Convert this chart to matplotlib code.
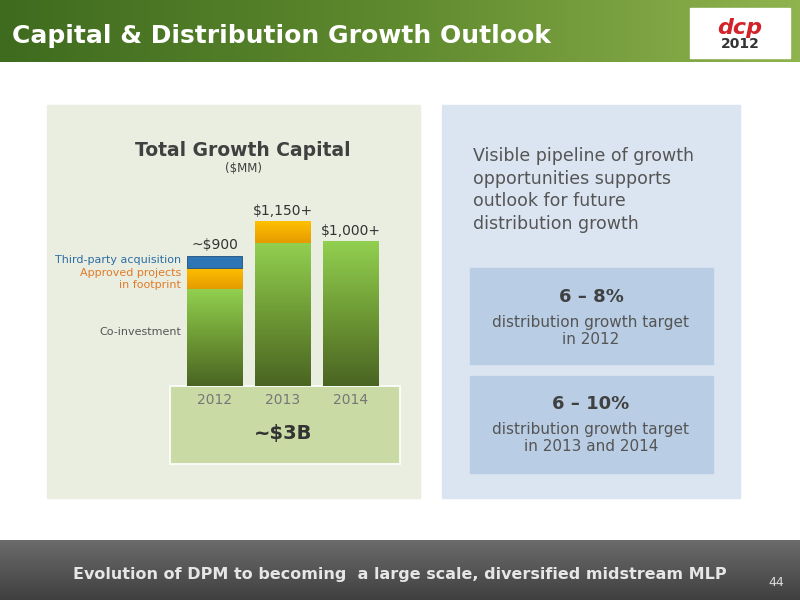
import matplotlib
matplotlib.use("Agg")
import matplotlib.pyplot as plt
import numpy as np
from matplotlib.patches import Rectangle
from matplotlib.colors import LinearSegmentedColormap

years = ["2012", "2013", "2014"]
co_investment = [670, 990, 1000]
approved_projects = [150, 150, 0]
third_party = [80, 0, 0]
bar_labels = ["~$900", "$1,150+", "$1,000+"]

W, H = 800, 600
fig = plt.figure(figsize=(8, 6), dpi=100)
bg = fig.add_axes([0, 0, 1, 1])
bg.set_xlim(0, W); bg.set_ylim(H, 0); bg.axis("off")

def rect(x0, y0, x1, y1, **kw):
    bg.add_patch(Rectangle((x0, y0), x1 - x0, y1 - y0, **kw))

grad = np.linspace(0, 1, 256).reshape(1, -1)
hcm = LinearSegmentedColormap.from_list("h", ["#3f6b1f", "#5f8a2e", "#8fb34f"])
bg.imshow(grad, extent=[0, W, 62, 0], cmap=hcm, aspect="auto", zorder=0)
bg.text(12, 36, "Capital & Distribution Growth Outlook", color="white", fontsize=18,
        fontweight="bold", va="center", ha="left")
rect(690, 8, 790, 58, color="white", zorder=1)
bg.text(740, 28, "dcp", color="#d2222a", fontsize=16, fontweight="bold", style="italic", ha="center", va="center", zorder=2)
bg.text(740, 44, "2012", color="#333333", fontsize=10, fontweight="bold", ha="center", va="center", zorder=2)

rect(47, 105, 420, 498, color="#eaeee0")
rect(442, 105, 740, 498, color="#dbe5f1")
rect(470, 268, 713, 364, color="#b9cde5")
rect(470, 376, 713, 473, color="#b9cde5")
bg.text(473, 190, "Visible pipeline of growth\nopportunities supports\noutlook for future\ndistribution growth",
        fontsize=12.5, color="#555555", va="center", ha="left", linespacing=1.35)
bg.text(591, 297, "6 – 8%", fontsize=13, fontweight="bold", color="#404040", ha="center", va="center")
bg.text(591, 331, "distribution growth target\nin 2012", fontsize=11, color="#555555", ha="center", va="center")
bg.text(591, 404, "6 – 10%", fontsize=13, fontweight="bold", color="#404040", ha="center", va="center")
bg.text(591, 438, "distribution growth target\nin 2013 and 2014", fontsize=11, color="#555555", ha="center", va="center")

bg.text(243, 150, "Total Growth Capital", fontsize=13.5, fontweight="bold", color="#404040", ha="center", va="center")
bg.text(243, 169, "($MM)", fontsize=8.5, color="#404040", ha="center", va="center")

fcm = LinearSegmentedColormap.from_list("f", ["#6b6b6b", "#404040"])
bg.imshow(np.linspace(0, 1, 64).reshape(-1, 1), extent=[0, W, 600, 540], cmap=fcm, aspect="auto", zorder=0)
bg.text(400, 575, "Evolution of DPM to becoming  a large scale, diversified midstream MLP",
        fontsize=11.5, fontweight="bold", color="#e6e6e6", ha="center", va="center", zorder=2)
bg.text(776, 583, "44", fontsize=9, color="#dddddd", ha="center", va="center", zorder=2)

ax = fig.add_axes([170 / W, 1 - 386 / H, 230 / W, 200 / H])
ax.axis("off")
ax.patch.set_alpha(0)
x = np.arange(len(years))
wdt = 0.81
gcm = LinearSegmentedColormap.from_list("g", ["#4a6422", "#6e9a35", "#92d050"])
for i in range(len(years)):
    b = ax.bar(x[i], co_investment[i], width=wdt, color="none")[0]
    im = ax.imshow(np.linspace(0, 1, 256).reshape(-1, 1), origin="lower", cmap=gcm,
                   extent=[x[i] - wdt / 2, x[i] + wdt / 2, 0, co_investment[i]], aspect="auto", zorder=2)
    im.set_clip_path(b)
    if approved_projects[i]:
        b2 = ax.bar(x[i], approved_projects[i], bottom=co_investment[i], width=wdt, color="none")[0]
        im2 = ax.imshow(np.linspace(0, 1, 64).reshape(-1, 1), origin="lower",
                        cmap=LinearSegmentedColormap.from_list("o", ["#e59b00", "#ffc000"]),
                        extent=[x[i] - wdt / 2, x[i] + wdt / 2, co_investment[i], co_investment[i] + approved_projects[i]],
                        aspect="auto", zorder=2)
        im2.set_clip_path(b2)
    if third_party[i]:
        ax.bar(x[i], third_party[i], bottom=co_investment[i] + approved_projects[i], width=wdt,
               color="#2e75b6", edgecolor="#1f4e79", linewidth=0.6, zorder=3)
    tot = co_investment[i] + approved_projects[i] + third_party[i]
    ax.text(x[i], tot + 25, bar_labels[i], ha="center", va="bottom", fontsize=10, color="#333333")
ax.set_xlim(-0.66, 2.72)
ax.set_ylim(0, 200 * 6.92)

bg.text(181, 260, "Third-party acquisition", fontsize=8, color="#2e6da4", ha="right", va="center")
bg.text(181, 273, "Approved projects", fontsize=8, color="#e07b2a", ha="right", va="center")
bg.text(181, 285, "in footprint", fontsize=8, color="#e07b2a", ha="right", va="center")
bg.text(181, 332, "Co-investment", fontsize=8, color="#555555", ha="right", va="center")

rect(170, 386, 400, 464, facecolor="#c4d79b", edgecolor="white", linewidth=1.5, zorder=3, alpha=0.85)
for i, yl in enumerate(years):
    px = 215 + i * 68
    bg.text(px, 400, yl, fontsize=10, color="#777777", ha="center", va="center", zorder=4)
bg.text(283, 433, "~$3B", fontsize=14, fontweight="bold", color="#333333", ha="center", va="center", zorder=4)

fig.savefig("out.png", dpi=100)
